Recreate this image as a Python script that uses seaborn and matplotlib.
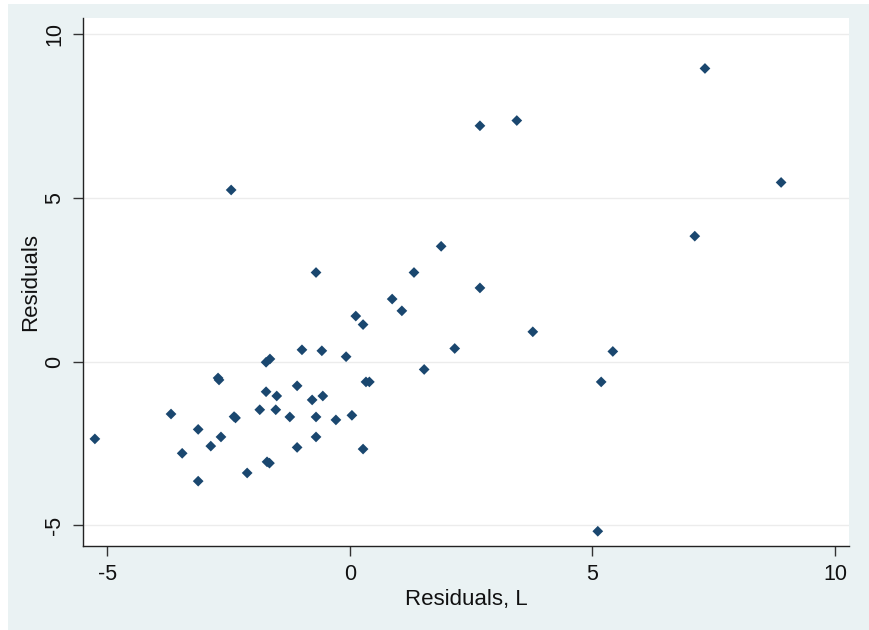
import matplotlib
matplotlib.use("Agg")
import matplotlib.pyplot as plt
import seaborn as sns
import pandas as pd
from matplotlib.patches import Rectangle

resid_L = [-5.26, -3.69, -3.46, -3.13, -3.13, -2.87, -2.72, -2.70, -2.66, -2.45,
           -2.39, -2.36, -2.12, -1.86, -1.73, -1.73, -1.65, -1.71, -1.66, -1.53,
           -1.51, -1.24, -1.09, -1.09, -0.99, -0.78, -0.70, -0.70, -0.70, -0.58,
           -0.56, -0.29, -0.08, 0.04, 0.12, 0.27, 0.27, 0.33, 0.40, 0.87,
           1.07, 1.32, 1.53, 1.88, 2.16, 2.68, 2.68, 3.44, 3.77, 5.11,
           5.18, 5.42, 7.11, 7.32, 8.89]
resid = [-2.36, -1.60, -2.80, -2.07, -3.65, -2.58, -0.50, -0.56, -2.30, 5.24,
         -1.68, -1.72, -3.40, -1.47, -0.92, -0.02, 0.08, -3.06, -3.10, -1.47,
         -1.05, -1.69, -0.74, -2.62, 0.36, -1.17, 2.72, -1.69, -2.30, 0.33,
         -1.05, -1.78, 0.15, -1.64, 1.39, 1.13, -2.67, -0.62, -0.62, 1.91,
         1.55, 2.72, -0.24, 3.52, 0.40, 7.20, 2.25, 7.36, 0.91, -5.18,
         -0.62, 0.31, 3.83, 8.95, 5.47]

x_ticks = [-5, 0, 5, 10]
y_ticks = [-5, 0, 5, 10]

df = pd.DataFrame({"Residuals, L": resid_L, "Residuals": resid})

sns.set_theme(style="white")
plt.rcParams['font.family'] = ['Liberation Sans', 'DejaVu Sans']

fig = plt.figure(figsize=(8.7, 6.3), dpi=100, facecolor="#eaf2f3")
# thin white margins at top and left of the graph region
fig.patches.append(Rectangle((0, 0), 8 / 870, 1, transform=fig.transFigure,
                             facecolor="white", edgecolor="none", zorder=-10))
fig.patches.append(Rectangle((0, 1 - 4 / 630), 1, 4 / 630, transform=fig.transFigure,
                             facecolor="white", edgecolor="none", zorder=-10))
ax = fig.add_axes([83 / 870, 1 - 546 / 630, (849 - 83) / 870, (546 - 17.7) / 630])
ax.set_facecolor("white")

for yv in y_ticks:
    ax.axhline(yv, color="#ececec", lw=1.0, zorder=1)

sns.scatterplot(data=df, x="Residuals, L", y="Residuals", ax=ax, marker="D",
                s=30, color="#1a476f", edgecolor="none", linewidth=0, zorder=3)

ax.set_xlim(-5.505, 10.29)
ax.set_ylim(-5.63, 10.5)
ax.set_xticks(x_ticks)
ax.set_yticks(y_ticks)
ax.set_xticklabels([str(v) for v in x_ticks], fontsize=15.5, color="#111111")
ax.set_yticklabels([str(v) for v in y_ticks], fontsize=15.5, color="#111111",
                   rotation=90, va="center")
ax.tick_params(axis="both", direction="out", length=7, width=1.0, color="#333333",
               bottom=True, left=True, pad=6)
for side in ["top", "right"]:
    ax.spines[side].set_visible(False)
for side in ["left", "bottom"]:
    ax.spines[side].set_color("#222222")
    ax.spines[side].set_linewidth(1.0)

ax.set_xlabel("Residuals, L", fontsize=16, color="#111111", labelpad=3)
ax.set_ylabel("Residuals", fontsize=16, color="#111111", labelpad=2)

fig.savefig("out.png", dpi=100, facecolor=fig.get_facecolor())
